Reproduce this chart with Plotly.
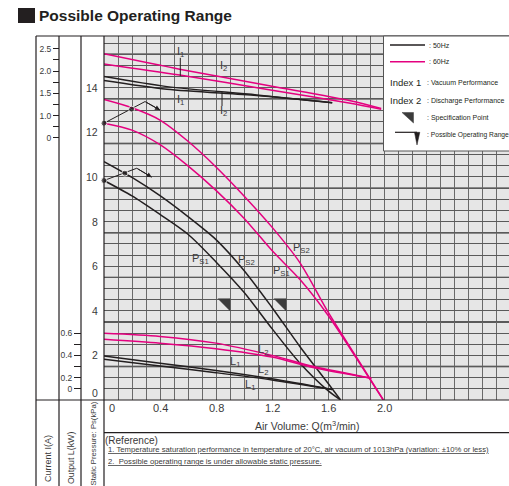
import numpy as np
import plotly.graph_objects as go

# ---- values ----
# static pressure Ps (kPa) against air volume Q (m3/min)
Q_PS_60 = [0, 0.2, 0.4, 0.6, 0.8, 1.0, 1.2, 1.4, 1.6, 1.8, 1.995]
PS2_60 = [13.47, 13.1, 12.55, 11.6, 10.45, 9.15, 7.75, 6.15, 3.95, 1.95, 0]
PS1_60 = [12.41, 12.1, 11.45, 10.5, 9.4, 8.15, 6.7, 5.4, 3.8, 1.9, 0]
Q_PS_50 = [0, 0.2, 0.4, 0.6, 0.8, 1.0, 1.2, 1.4, 1.6, 1.69]
PS2_50 = [10.69, 9.98, 9.16, 8.22, 7.19, 5.81, 4.15, 2.39, 0.75, 0]
PS1_50 = [9.84, 9.15, 8.32, 7.43, 6.19, 4.83, 3.2, 1.65, 0.42, 0]

# current I (A)
Q_I_60 = [0, 0.54, 1.2, 1.76, 1.98]
IA_60 = [2.385, 2.04, 1.66, 1.335, 1.16]
IB_60 = [2.16, 1.91, 1.57, 1.275, 1.14]
Q_I_50 = [0, 0.45, 1.09, 1.63]
IA_50 = [1.875, 1.65, 1.465, 1.29]
IB_50 = [1.785, 1.59, 1.45, 1.29]

# output L (kW)
Q_L_60 = [0, 0.4, 0.8, 1.2, 1.5, 1.91]
L2_60 = [0.598, 0.57, 0.51, 0.40, 0.30, 0.195]
L1_60 = [0.545, 0.51, 0.46, 0.385, 0.29, 0.195]
Q_L_50 = [0, 0.4, 0.8, 1.2, 1.63]
L2_50 = [0.395, 0.33, 0.265, 0.19, 0.095]
L1_50 = [0.365, 0.305, 0.245, 0.18, 0.095]

# possible operating range marks and specification points
OP_Q_60 = [0, 0.197, 0.293, 0.40]
OP_PS_60 = [12.41, 13.04, 13.38, 13.0]
OP_Q_50 = [0, 0.149, 0.234, 0.341]
OP_PS_50 = [9.84, 10.17, 10.39, 9.99]
SPEC_Q = [0.9, 1.3]
SPEC_PS = [4.0, 4.0]

# tick labels
Q_TICKS = [0, 0.4, 0.8, 1.2, 1.6, 2.0]
Q_TICK_TEXT = ["0", "0.4", "0.8", "1.2", "1.6", "2.0"]
PS_TICKS = [0, 2, 4, 6, 8, 10, 12, 14]
I_TICKS = [0.5, 0.75, 1.0, 1.25, 1.5, 1.75, 2.0, 2.25, 2.5]
I_TICK_TEXT = ["0", "", "1.0", "", "1.5", "", "2.0", "", "2.5"]
L_TICKS = [0.1, 0.2, 0.3, 0.4, 0.5, 0.6]
L_TICK_TEXT = ["0", "0.2", "", "0.4", "", "0.6"]

# curve labels (text, Q, Ps-position)
CURVE_LABELS = [
    ("I<sub>1</sub>", 0.543, 15.6), ("I<sub>2</sub>", 0.85, 14.98),
    ("I<sub>1</sub>", 0.543, 13.45), ("I<sub>2</sub>", 0.85, 12.96),
    ("P<sub>S2</sub>", 1.414, 6.82), ("P<sub>S1</sub>", 1.27, 5.78),
    ("P<sub>S1</sub>", 0.69, 6.32), ("P<sub>S2</sub>", 1.02, 6.28),
    ("L<sub>2</sub>", 1.136, 2.24), ("L<sub>1</sub>", 0.936, 1.70),
    ("L<sub>2</sub>", 1.136, 1.35), ("L<sub>1</sub>", 1.043, 0.67),
]

# ---- page geometry ----
W, H = 509, 486
ML, MT, MB = 36, 36, 86
PW, PH = W - ML, H - MT - MB
Q_MAX = 405 / 140
PS_MAX = 16.32
I_OFF, I_SCALE = 10.75, 2.0   # Ps position = I_OFF + I_SCALE * I
L_SCALE = 5.0                 # Ps position = L_SCALE * L

PINK = "#e4007f"
BLACK = "#231f20"
GREY_TXT = "#3a3a3a"
SANS = "Liberation Sans, Arial, Helvetica, sans-serif"


def px(x):
    return (x - ML) / PW


def py(y):
    return (H - MB - y) / PH


fig = go.Figure()


def curve(q, v, color, yaxis="y", width=1.5):
    fig.add_trace(go.Scatter(x=q, y=v, mode="lines", yaxis=yaxis, hoverinfo="skip",
                             line=dict(color=color, width=width, shape="spline", smoothing=0.8)))


# static pressure
curve(Q_PS_60, PS2_60, PINK)
curve(Q_PS_60, PS1_60, PINK)
curve(Q_PS_50, PS2_50, BLACK)
curve(Q_PS_50, PS1_50, BLACK)
# current
curve(Q_I_60, IA_60, PINK, "y2")
curve(Q_I_60, IB_60, PINK, "y2")
curve(Q_I_50, IA_50, BLACK, "y2")
curve(Q_I_50, IB_50, BLACK, "y2")
# output
curve(Q_L_60, L2_60, PINK, "y3")
curve(Q_L_60, L1_60, PINK, "y3")
curve(Q_L_50, L2_50, BLACK, "y3")
curve(Q_L_50, L1_50, BLACK, "y3")

# possible operating range marks
for oq, op in [(OP_Q_60, OP_PS_60), (OP_Q_50, OP_PS_50)]:
    fig.add_trace(go.Scatter(x=oq, y=op, mode="lines+markers", cliponaxis=False, hoverinfo="skip",
                             line=dict(color=BLACK, width=1),
                             marker=dict(color=BLACK, size=[6, 6, 0, 0])))

# specification points (triangle with its corner on the point)
tx, ty = [], []
for q, p in zip(SPEC_Q, SPEC_PS):
    tx += [q - 0.085, q, q, q - 0.085, None]
    ty += [p + 0.54, p + 0.54, p, p + 0.54, None]
fig.add_trace(go.Scatter(x=tx, y=ty, mode="lines", fill="toself", fillcolor="#3c3c3c",
                         line=dict(color="#3c3c3c", width=0.5), hoverinfo="skip"))

ann = []


def label(x, y, s, size=10, family=SANS, xanchor="left", yanchor="middle",
          xref="paper", yref="paper", color=BLACK, **kw):
    ann.append(dict(x=x, y=y, text=s, xref=xref, yref=yref, xanchor=xanchor, yanchor=yanchor,
                    showarrow=False, font=dict(family=family, size=size, color=color), **kw))


for s, q, v in CURVE_LABELS:
    label(q, v, s, size=11, xref="x", yref="y", xanchor="center", color=GREY_TXT)

# arrow heads of the operating range marks
for oq, op in [(OP_Q_60, OP_PS_60), (OP_Q_50, OP_PS_50)]:
    ann.append(dict(x=oq[-1], y=op[-1], ax=oq[-2], ay=op[-2], xref="x", yref="y",
                    axref="x", ayref="y", text="", showarrow=True, arrowhead=2,
                    arrowsize=1, arrowwidth=1, arrowcolor=BLACK, standoff=0))

# static pressure tick labels
for v in PS_TICKS:
    label(px(100), v, str(v), size=10.5, xanchor="right", yref="y", color=GREY_TXT,
          yshift=7 if v == 0 else 0)

# air volume tick labels
for q, s in zip(Q_TICKS, Q_TICK_TEXT):
    label(q, py(408), s, size=11, xref="x",
          xanchor="left" if q == 0 else "center", xshift=3 if q == 0 else 0, color=GREY_TXT)
label(px(307), py(425), "Air Volume: Q(m<sup>3</sup>/min)", size=10.5,
      xanchor="center", color=GREY_TXT)

# column titles
label(px(48), py(459), "Current I(A)", size=9, xanchor="center", textangle=-90, color=GREY_TXT)
label(px(70.5), py(458.5), "Output L(kW)", size=8.8, xanchor="center", textangle=-90,
      color=GREY_TXT)
label(px(92.5), py(444), "Static Pressure: Ps(kPa)", size=7.7, xanchor="center",
      textangle=-90, color=GREY_TXT)

# reference notes
label(px(103), py(440), "(Reference)", size=10, color=GREY_TXT)
label(px(106), py(449.5),
      "<u>1. Temperature saturation performance in temperature of 20°C, air vacuum of 1013hPa "
      "(variation: ±10% or less)</u>", size=7.7, color=GREY_TXT)
label(px(106), py(461), "<u>2.  Possible operating range is under allowable static pressure.</u>",
      size=7.7, color=GREY_TXT)

# title
label(px(37), py(15.5), "<b>Possible Operating Range</b>", size=15.5)

# legend texts
label(px(427), py(45), ": 50Hz", size=7)
label(px(427), py(61.7), ": 60Hz", size=7)
label(px(423), py(82), "Index 1", size=9.5, xanchor="right")
label(px(424.5), py(82), ": Vacuum Performance", size=7)
label(px(423), py(100.5), "Index 2", size=9.5, xanchor="right")
label(px(424.5), py(100.5), ": Discharge Performance", size=7)
label(px(424.5), py(118), ": Specification Point", size=7)
label(px(424.5), py(135), ": Possible Operating Range", size=6.7)

shapes = []


def pline(x0, y0, x1, y1, color=BLACK, width=1.2):
    shapes.append(dict(type="line", xref="paper", yref="paper", x0=px(x0), y0=py(y0),
                       x1=px(x1), y1=py(y1), line=dict(color=color, width=width), layer="above"))


def ppath(points, fill=None, color=BLACK, width=1):
    d = "M " + " L ".join(f"{px(x):.5f},{py(y):.5f}" for x, y in points) + (" Z" if fill else "")
    shapes.append(dict(type="path", xref="paper", yref="paper", path=d, fillcolor=fill,
                       line=dict(color=color, width=width), layer="above"))


# darker horizontal grid lines
for v in np.arange(1.5, PS_MAX, 2.0):
    shapes.append(dict(type="line", xref="paper", yref="y", x0=px(104), x1=1, y0=v, y1=v,
                       line=dict(color="#2b2b2b", width=1.4), layer="between"))

# leader lines for the current labels
shapes.append(dict(type="line", xref="x", yref="y", x0=0.545, x1=0.545, y0=15.34, y1=14.53,
                   line=dict(color=BLACK, width=1)))
shapes.append(dict(type="line", xref="x", yref="y", x0=0.843, x1=0.843, y0=13.18, y1=13.81,
                   line=dict(color=BLACK, width=1)))

# frame
for x in [36, 59, 81, 104]:
    pline(x, 36, x, 486)
pline(36, 36, 509, 36)
pline(36, 400, 509, 400)
pline(104, 432.7, 509, 432.7)

# legend box
shapes.append(dict(type="rect", xref="paper", yref="paper", x0=px(383.5), x1=1.01,
                   y0=py(151), y1=py(36), fillcolor="white", line=dict(color="#555", width=1),
                   layer="above"))
pline(390, 45, 425, 45, BLACK, 1.5)
pline(390, 61.7, 425, 61.7, PINK, 1.5)
ppath([(402, 112.5), (413.5, 112.5), (413.5, 123)], fill="#3c3c3c", color="#3c3c3c", width=0.5)
ppath([(395, 132.3), (417, 132.3)], color=BLACK, width=1.2)
ppath([(414.5, 132.3), (419.8, 132.3), (417, 145)], fill=BLACK, color=BLACK, width=0.5)

# title block
shapes.append(dict(type="rect", xref="paper", yref="paper", x0=px(18), x1=px(35),
                   y0=py(23), y1=py(8), fillcolor=BLACK, line=dict(width=0), layer="above"))

fig.update_layout(
    width=W, height=H,
    margin=dict(l=ML, r=0, t=MT, b=MB, pad=0),
    paper_bgcolor="white",
    plot_bgcolor="#e6e6e6",
    showlegend=False,
    xaxis=dict(domain=[px(104), 1], range=[0, Q_MAX], tick0=0, dtick=0.1,
               showgrid=True, gridcolor="#6a6a6a", gridwidth=1.2,
               showticklabels=False, ticks="", zeroline=False, showline=False),
    yaxis=dict(range=[0, PS_MAX], tick0=0, dtick=0.5,
               showgrid=True, gridcolor="#5a5a5a", gridwidth=1.1,
               showticklabels=False, ticks="", zeroline=False, showline=False),
    yaxis2=dict(overlaying="y", anchor="free", position=px(59), side="left",
                range=[(0 - I_OFF) / I_SCALE, (PS_MAX - I_OFF) / I_SCALE],
                tickmode="array", tickvals=I_TICKS, ticktext=I_TICK_TEXT,
                ticks="outside", ticklen=6, tickwidth=1, tickcolor=BLACK,
                tickfont=dict(family=SANS, size=8.5, color=GREY_TXT),
                showgrid=False, zeroline=False, showline=False),
    yaxis3=dict(overlaying="y", anchor="free", position=px(81), side="left",
                range=[0, PS_MAX / L_SCALE],
                tickmode="array", tickvals=L_TICKS, ticktext=L_TICK_TEXT,
                ticks="outside", ticklen=7, tickwidth=1, tickcolor=BLACK,
                tickfont=dict(family=SANS, size=8.5, color=GREY_TXT),
                showgrid=False, zeroline=False, showline=False),
    annotations=ann,
    shapes=shapes,
)

# the page's default body margin would push the figure off by 8px
fig.write_html("out.html", config={"displayModeBar": False},
               post_script="document.body.style.margin='0';")
